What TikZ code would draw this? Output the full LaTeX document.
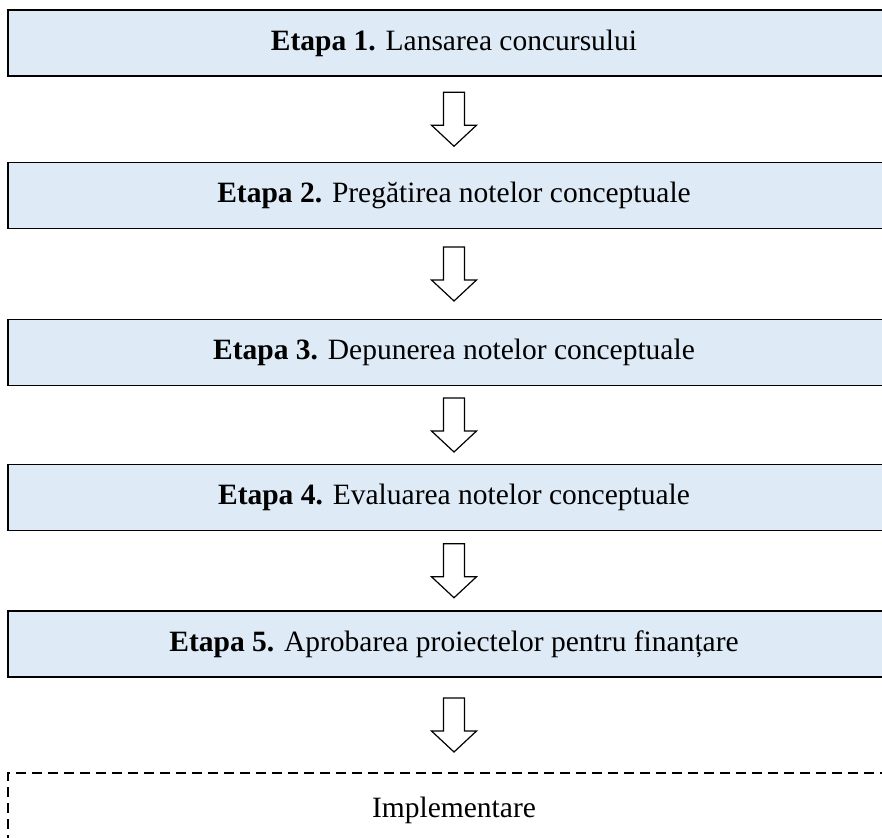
\documentclass[tikz,border=0pt]{standalone}
\usepackage{fontspec}
\setmainfont{Liberation Serif}
\usetikzlibrary{calc}
\definecolor{etapablue}{RGB}{222,235,247}
\tikzset{etapa/.style={draw,line width=1.6pt,fill=etapablue,minimum width=892pt,minimum height=66pt,inner sep=0pt,outer sep=0pt,font=\fontsize{29.5}{34}\selectfont},
 sageata/.style={draw,line width=1.2pt,line join=miter,fill=white}}

\begin{document}
\begin{tikzpicture}[x=1pt,y=1pt]
 \useasboundingbox (0,0) rectangle (882,-837);
 \node[etapa] (e1) at (454,-43) {\textbf{Etapa 1.} Lansarea concursului};
 \node[etapa] (e2) at (454,-195.5) {\textbf{Etapa 2.} Pregătirea notelor conceptuale};
 \node[etapa] (e3) at (454,-352.5) {\textbf{Etapa 3.} Depunerea notelor conceptuale};
 \node[etapa] (e4) at (454,-497.5) {\textbf{Etapa 4.} Evaluarea notelor conceptuale};
 \node[etapa] (e5) at (454,-644) {\textbf{Etapa 5.} Aprobarea proiectelor pentru finanțare};
 \node[etapa,fill=none,dash pattern=on 10pt off 6pt,minimum height=74pt] (impl) at (454,-810) {Implementare};
 \foreach \a/\b in {e1/e2,e2/e3,e3/e4,e4/e5,e5/impl}{
     \coordinate (m-\a) at ($(\a.south)!0.5!(\b.north)$);
     \draw[sageata] ($(m-\a)+(-10.5,27)$) -- ++(21,0) -- ++(0,-33) -- ++(12,0)
       -- ++(-22.5,-21) -- ++(-22.5,21) -- ++(12,0) -- cycle;
 }
\end{tikzpicture}
\end{document}
